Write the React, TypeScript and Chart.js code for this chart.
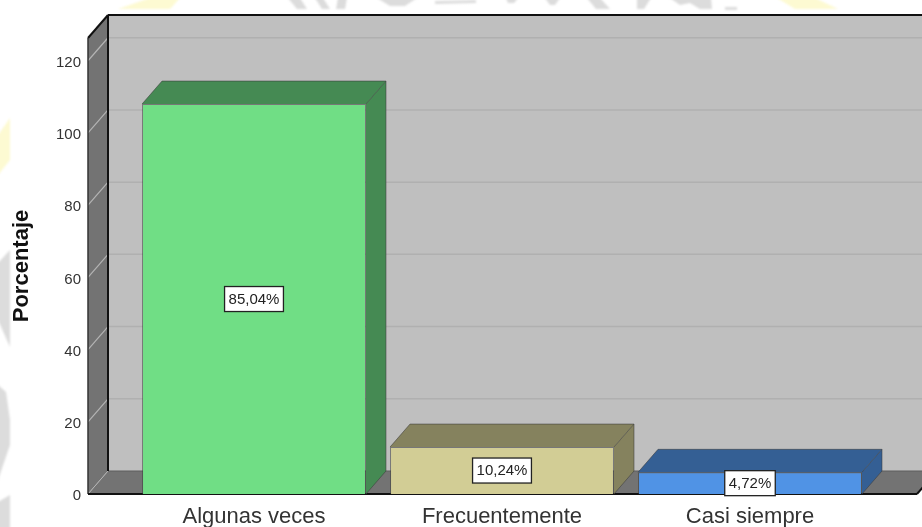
import React, { useEffect, useRef } from "react";
import { Chart, registerables } from "chart.js";

Chart.register(...registerables);

const categories = ["Algunas veces", "Frecuentemente", "Casi siempre"];
const counts = [108, 13, 6];
const frontColors = ["#70de85", "#d2cd95", "#5093e5"];
const sideColors = ["#458a53", "#85825e", "#345f94"];
const axisTitle = "Porcentaje";

const DEPTH_X = 20;
const DEPTH_Y = 23;
const WALL_INSET = 42;
const total = counts.reduce((a, b) => a + b, 0);
const percentLabel = (v: number) => `${((v / total) * 100).toFixed(2).replace(".", ",")}%`;

function poly(ctx: CanvasRenderingContext2D, pts: number[][], fill: string) {
  ctx.beginPath();
  pts.forEach(([x, y], i) => (i ? ctx.lineTo(x, y) : ctx.moveTo(x, y)));
  ctx.closePath();
  ctx.fillStyle = fill;
  ctx.fill();
}

function line(ctx: CanvasRenderingContext2D, x1: number, y1: number, x2: number, y2: number, color: string, w: number) {
  ctx.beginPath();
  ctx.moveTo(x1, y1);
  ctx.lineTo(x2, y2);
  ctx.strokeStyle = color;
  ctx.lineWidth = w;
  ctx.stroke();
}

// Faint page watermark fragments around the plot.
const watermarkPlugin = {
  id: "watermark",
  beforeDraw(chart: any) {
    const { ctx } = chart;
    const yellow = "#fdfad2";
    const gray = "#dcdcdc";
    ctx.save();
    ctx.filter = "blur(0.8px)";
    poly(ctx, [[118, 9], [150, -2], [180, -2], [170, 9]], yellow);
    poly(ctx, [[777, -2], [815, -2], [838, 9], [795, 9]], yellow);
    poly(ctx, [[-2, 175], [10, 160], [10, 118], [-2, 135]], yellow);
    const greyPieces = [
      [[288, -2], [300, -2], [307, 9], [297, 9]],
      [[315, -2], [323, -2], [330, 9], [322, 9]],
      [[338, -2], [347, -2], [345, 9], [336, 9]],
      [[377, -2], [417, -2], [405, 6], [390, 6]],
      [[435, 1], [476, 0], [476, 3], [435, 4]],
      [[506, -2], [518, -2], [514, 3], [508, 3]],
      [[545, -2], [560, -2], [555, 5], [550, 5]],
      [[587, -2], [600, -2], [610, 9], [596, 9]],
      [[637, -2], [651, -2], [644, 9], [637, 9]],
      [[670, -2], [711, -2], [712, 9], [700, 9], [690, 3], [680, 5]],
      [[725, 7], [737, 7], [737, 10], [725, 10]],
      [[-2, 263], [10, 250], [10, 347], [-2, 320]],
      [[-2, 385], [6, 392], [10, 420], [10, 445], [-2, 480]],
      [[-2, 502], [10, 495], [10, 529], [-2, 529]],
    ];
    greyPieces.forEach((p) => poly(ctx, p, gray));
    ctx.restore();
  },
};

// Back wall, side wall and floor of the 3D box, behind the bars.
const boxPlugin = {
  id: "box",
  beforeDatasetsDraw(chart: any) {
    const { ctx, chartArea, scales, width } = chart;
    const bottom = chartArea.bottom;
    const top = chartArea.top;
    const left = chartArea.left - WALL_INSET;
    const backX = left + DEPTH_X;
    const backTop = top - DEPTH_Y;
    const backBottom = bottom - DEPTH_Y;
    const frontRight = 917;
    ctx.save();
    ctx.fillStyle = "#bfbfbf";
    ctx.fillRect(backX, backTop, width - backX, backBottom - backTop);
    poly(ctx, [[left, top], [backX, backTop], [backX, backBottom], [left, bottom]], "#737373");
    poly(ctx, [[left, bottom], [backX, backBottom], [frontRight + DEPTH_X, backBottom], [frontRight, bottom]], "#737373");
    for (const tick of scales.y.ticks) {
      if (tick.value === 0) continue;
      const y = scales.y.getPixelForValue(tick.value);
      line(ctx, backX, y - DEPTH_Y, width, y - DEPTH_Y, "#b0b0b0", 1.5);
      line(ctx, left, y, backX, y - DEPTH_Y, "#b4b4b4", 1.2);
    }
    line(ctx, left, bottom, backX, backBottom, "#b4b4b4", 1);
    line(ctx, backX, backBottom, width, backBottom, "#5f5f5f", 1.2);
    line(ctx, backX, backTop, backX, backBottom, "#111111", 2);
    line(ctx, backX, backTop, width, backTop, "#111111", 2);
    line(ctx, left, top, backX, backTop, "#111111", 2);
    line(ctx, left, top, left, bottom, "#333333", 1.5);
    line(ctx, left, bottom, frontRight, bottom, "#111111", 2);
    line(ctx, frontRight, bottom, frontRight + DEPTH_X, backBottom, "#111111", 2);
    ctx.restore();
  },
};

// Top and side faces of each bar, then the boxed percentage on its front face.
const barFacesPlugin = {
  id: "barFaces",
  afterDatasetsDraw(chart: any) {
    const { ctx } = chart;
    const bars = chart.getDatasetMeta(0).data;
    ctx.save();
    bars.forEach((bar: any, i: number) => {
      const l = bar.x - bar.width / 2;
      const r = bar.x + bar.width / 2;
      const t = bar.y;
      const b = bar.base;
      poly(ctx, [[l, t], [l + DEPTH_X, t - DEPTH_Y], [r + DEPTH_X, t - DEPTH_Y], [r, t]], sideColors[i]);
      poly(ctx, [[r, t], [r + DEPTH_X, t - DEPTH_Y], [r + DEPTH_X, b - DEPTH_Y], [r, b]], sideColors[i]);
      ctx.beginPath();
      ctx.moveTo(l, t);
      ctx.lineTo(l + DEPTH_X, t - DEPTH_Y);
      ctx.lineTo(r + DEPTH_X, t - DEPTH_Y);
      ctx.lineTo(r + DEPTH_X, b - DEPTH_Y);
      ctx.lineTo(r, b);
      ctx.moveTo(r, t);
      ctx.lineTo(r + DEPTH_X, t - DEPTH_Y);
      ctx.strokeStyle = "rgba(60,60,60,0.55)";
      ctx.lineWidth = 1;
      ctx.stroke();
    });
    bars.forEach((bar: any, i: number) => {
      const text = percentLabel(counts[i]);
      const cy = (bar.y + bar.base) / 2;
      ctx.font = "15px 'Liberation Sans'";
      const w = ctx.measureText(text).width + 8;
      const h = 25;
      ctx.fillStyle = "#ffffff";
      ctx.fillRect(bar.x - w / 2, cy - h / 2, w, h);
      ctx.strokeStyle = "#222222";
      ctx.lineWidth = 1.3;
      ctx.strokeRect(bar.x - w / 2, cy - h / 2, w, h);
      ctx.fillStyle = "#222222";
      ctx.textAlign = "center";
      ctx.textBaseline = "middle";
      ctx.fillText(text, bar.x, cy + 0.5);
    });
    ctx.restore();
  },
};

export default function App() {
  const ref = useRef<HTMLCanvasElement>(null);
  useEffect(() => {
    document.body.style.margin = "0";
    const chart = new Chart(ref.current!, {
      type: "bar",
      data: {
        labels: categories,
        datasets: [
          {
            data: counts,
            backgroundColor: frontColors,
            borderColor: "rgba(60,60,60,0.55)",
            borderWidth: 1,
            barPercentage: 0.903,
            categoryPercentage: 1,
          },
        ],
      },
      options: {
        responsive: false,
        maintainAspectRatio: false,
        animation: false,
        layout: { autoPadding: false, padding: { top: 38, right: 48, left: 0, bottom: 0 } },
        plugins: { legend: { display: false }, tooltip: { enabled: false } },
        scales: {
          x: {
            grid: { display: false, drawTicks: false },
            border: { display: false },
            ticks: {
              color: "#333333",
              padding: 10,
              maxRotation: 0,
              font: { family: "'Liberation Sans'", size: 22 },
            },
            afterFit(scale: any) {
              scale.height = 33;
            },
          },
          y: {
            min: 0,
            max: 126.3,
            grid: { display: false, drawTicks: false },
            border: { display: false },
            ticks: {
              stepSize: 20,
              includeBounds: false,
              labelOffset: 2,
              color: "#333333",
              padding: 49,
              font: { family: "'Liberation Sans'", size: 15 },
            },
            title: {
              display: true,
              text: axisTitle,
              color: "#111111",
              padding: { top: 9, bottom: 0 },
              font: { family: "'Liberation Sans'", size: 22, weight: "bold" },
            },
            afterFit(scale: any) {
              // The wide tick gap would otherwise inset the plot vertically.
              scale.width = 130;
              scale.paddingTop = 0;
              scale.paddingBottom = 0;
            },
          },
        },
      },
      plugins: [watermarkPlugin, boxPlugin, barFacesPlugin],
    } as any);
    return () => chart.destroy();
  }, []);
  return <canvas ref={ref} width={922} height={527} style={{ display: "block", width: 922, height: 527 }} />;
}
